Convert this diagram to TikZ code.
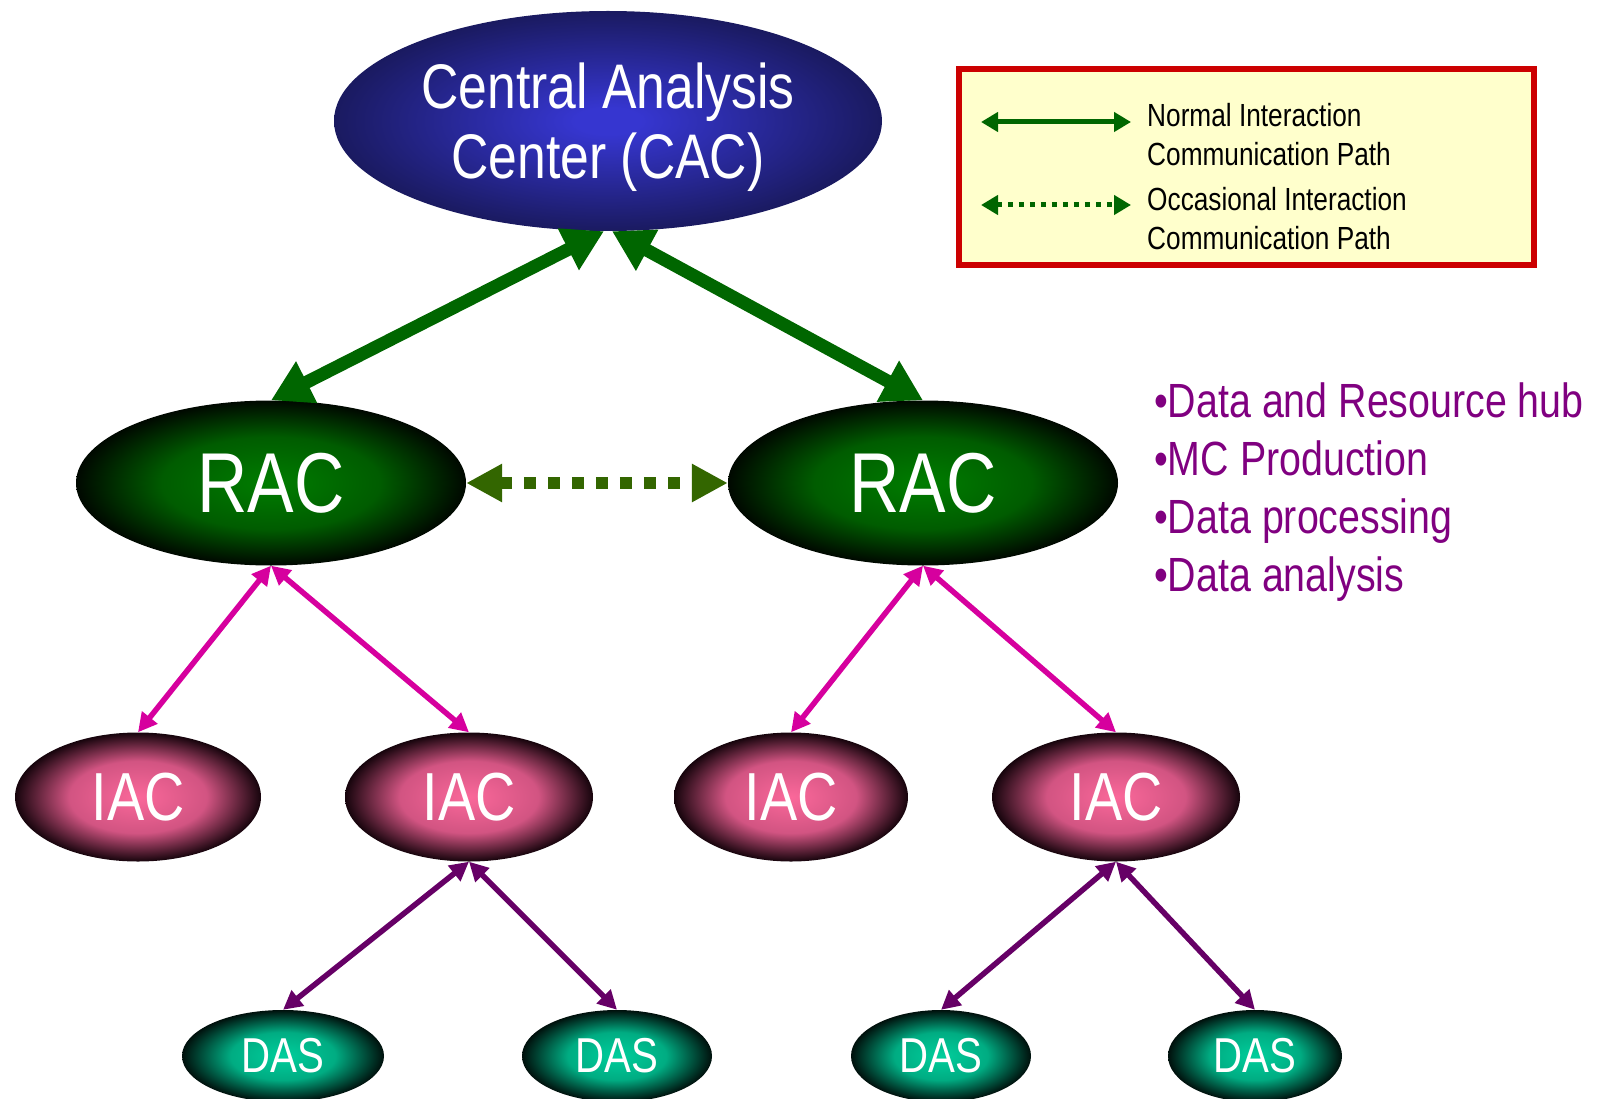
\documentclass[tikz,border=0pt]{standalone}
\usepackage{fontspec}
\setmainfont{Liberation Sans}[FakeStretch=0.82]
\usetikzlibrary{arrows.meta,positioning,shapes.geometric}

\definecolor{cacin}{RGB}{54,54,208}
\definecolor{cacout}{RGB}{26,26,96}
\definecolor{racin}{RGB}{0,125,0}
\definecolor{racmid}{RGB}{0,92,0}
\definecolor{racout}{RGB}{0,8,0}
\definecolor{iacin}{RGB}{250,104,154}
\definecolor{iacmid}{RGB}{210,84,130}
\definecolor{iacout}{RGB}{22,4,12}
\definecolor{dasin}{RGB}{0,206,156}
\definecolor{dasmid}{RGB}{0,172,130}
\definecolor{dasout}{RGB}{0,16,12}
\definecolor{linkgreen}{RGB}{0,102,0}
\definecolor{peergreen}{RGB}{51,102,0}
\definecolor{linkpink}{RGB}{214,0,158}
\definecolor{linkpurple}{RGB}{102,0,102}
\definecolor{rolepurple}{RGB}{128,0,128}
\definecolor{legred}{RGB}{204,0,0}
\definecolor{legyellow}{RGB}{255,255,204}

\pgfdeclareradialshading{cacshade}{\pgfpoint{0bp}{0bp}}{color(0bp)=(cacin); color(3bp)=(cacin); color(25bp)=(cacout); color(50bp)=(cacout)}
\pgfdeclareradialshading{racshade}{\pgfpoint{0bp}{0bp}}{color(0bp)=(racin); color(14bp)=(racmid); color(25bp)=(racout); color(50bp)=(racout)}
\pgfdeclareradialshading{iacshade}{\pgfpoint{0bp}{0bp}}{color(0bp)=(iacin); color(14bp)=(iacmid); color(25bp)=(iacout); color(50bp)=(iacout)}
\pgfdeclareradialshading{dasshade}{\pgfpoint{0bp}{0bp}}{color(0bp)=(dasin); color(13bp)=(dasmid); color(25bp)=(dasout); color(50bp)=(dasout)}

\begin{document}
\begin{tikzpicture}[
  x=1pt, y=-1pt,
  blob/.style={ellipse, inner sep=0pt, text=white, align=center},
  cacnode/.style={blob, shading=cacshade, minimum width=548pt, minimum height=220pt},
  racnode/.style={blob, shading=racshade, minimum width=390pt, minimum height=165pt, font=\fontsize{85}{90}\selectfont},
  iacnode/.style={blob, shading=iacshade, minimum height=129pt, font=\fontsize{68}{70}\selectfont},
  dasnode/.style={blob, shading=dasshade, minimum height=92pt, font=\fontsize{49}{50}\selectfont},
  mainlink/.style={draw=linkgreen, line width=13pt, {Triangle[length=40pt,width=44pt]}-{Triangle[length=40pt,width=44pt]}},
  peerlink/.style={draw=peergreen, line width=12pt, dash pattern=on 12pt off 12pt, {Triangle[length=36pt,width=36pt]}-{Triangle[length=36pt,width=36pt]}},
  iaclink/.style={draw=linkpink, line width=5.5pt, {Triangle[length=19pt,width=19pt]}-{Triangle[length=19pt,width=19pt]}},
  daslink/.style={draw=linkpurple, line width=5.5pt, {Triangle[length=19pt,width=19pt]}-{Triangle[length=19pt,width=19pt]}},
  legtext/.style={anchor=west, inner sep=0pt, align=left, font=\fontsize{32}{39}\selectfont}
]
  \useasboundingbox (0,0) rectangle (1605,1099);

  % centres
  \node[cacnode, label={[text=white, align=center, font=\fontsize{63}{70}\selectfont, yshift=-6pt]center:Central Analysis\\Center (CAC)}] (cac) at (608,121) {};
  \node[racnode] (racl) at (271,483) {RAC};
  \node[racnode] (racr) at (923,483) {RAC};

  \node[iacnode, minimum width=246pt] (iac1) at (138,797) {IAC};
  \node[iacnode, minimum width=248pt] (iac2) at (469,797) {IAC};
  \node[iacnode, minimum width=234pt] (iac3) at (791,797) {IAC};
  \node[iacnode, minimum width=248pt] (iac4) at (1116,797) {IAC};

  \node[dasnode, minimum width=202pt] (das1) at (283,1056) {DAS};
  \node[dasnode, minimum width=190pt] (das2) at (617,1056) {DAS};
  \node[dasnode, minimum width=180pt] (das3) at (941,1056) {DAS};
  \node[dasnode, minimum width=174pt] (das4) at (1255,1056) {DAS};

  % links
  \draw[mainlink] ([xshift=-4pt]cac.south) -- (racl.north);
  \draw[mainlink] ([xshift=4pt]cac.south) -- (racr.north);
  \draw[peerlink] (racl.east) -- (racr.west);

  \draw[iaclink] (racl.south) -- (iac1.north);
  \draw[iaclink] (racl.south) -- (iac2.north);
  \draw[iaclink] (racr.south) -- (iac3.north);
  \draw[iaclink] (racr.south) -- (iac4.north);

  \draw[daslink] (iac2.south) -- (das1.north);
  \draw[daslink] (iac2.south) -- (das2.north);
  \draw[daslink] (iac4.south) -- (das3.north);
  \draw[daslink] (iac4.south) -- (das4.north);

  % RAC roles
  \node[anchor=west, inner sep=0pt, align=left, text=rolepurple, font=\fontsize{48}{58}\selectfont] (roles) at (1154,492)
    {•Data and Resource hub\\•MC Production\\•Data processing\\•Data analysis};

  % legend
  \node[draw=legred, line width=6pt, fill=legyellow, anchor=north west, minimum width=575pt, minimum height=196pt] (legend) at (956,66) {};
  \coordinate (n1) at (981,122);
  \coordinate (n2) at (1131,122);
  \coordinate (o1) at (981,205);
  \coordinate (o2) at (1131,205);
  \draw[draw=linkgreen, line width=5pt, {Triangle[length=17pt,width=19pt]}-{Triangle[length=17pt,width=19pt]}] (n1) -- (n2);
  \draw[draw=linkgreen, line width=5pt, dash pattern=on 5pt off 6pt, {Triangle[length=17pt,width=19pt]}-{Triangle[length=17pt,width=19pt]}] (o1) -- (o2);
  \node[legtext] (normal) at (1147,135) {Normal Interaction\\Communication Path};
  \node[legtext] (occasional) at (1147,219) {Occasional Interaction\\Communication Path};
\end{tikzpicture}
\end{document}
